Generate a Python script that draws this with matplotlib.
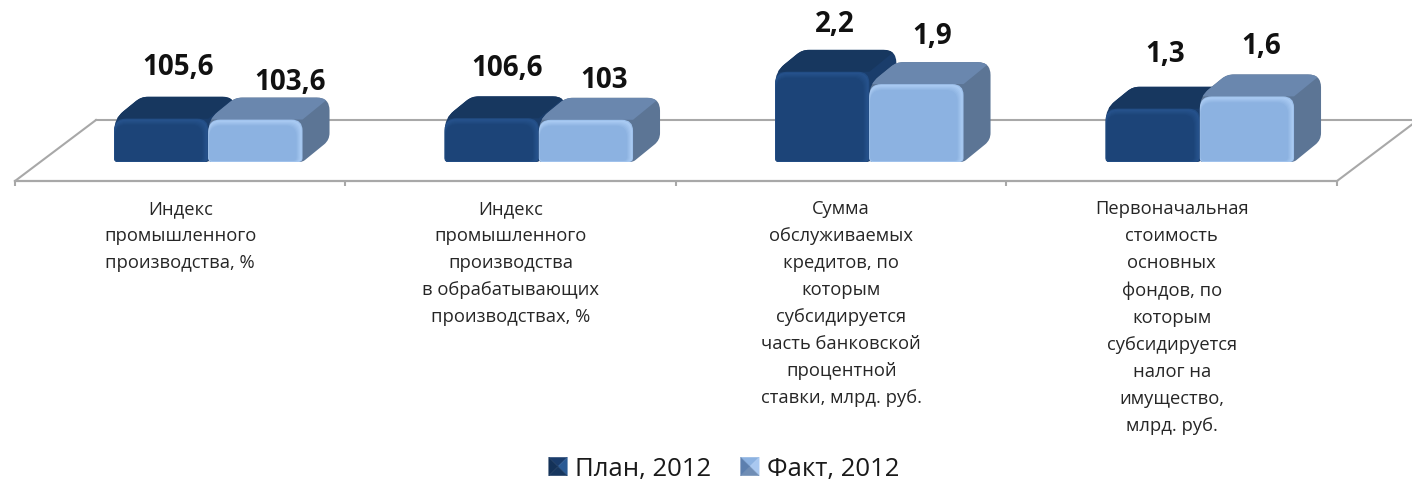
import matplotlib
matplotlib.use("Agg")
import matplotlib.pyplot as plt
from matplotlib.legend_handler import HandlerPatch
from matplotlib.patches import Patch, PathPatch, Polygon
from matplotlib.path import Path
from matplotlib.colors import to_rgb

# === data ===
categories = [
    "Индекс\nпромышленного\nпроизводства, %",
    "Индекс\nпромышленного\nпроизводства\nв обрабатывающих\nпроизводствах, %",
    "Сумма\nобслуживаемых\nкредитов, по\nкоторым\nсубсидируется\nчасть банковской\nпроцентной\nставки, млрд. руб.",
    "Первоначальная\nстоимость\nосновных\nфондов, по\nкоторым\nсубсидируется\nналог на\nимущество,\nмлрд. руб.",
]
plan_values = [1.056, 1.066, 2.2, 1.3]
fact_values = [1.036, 1.03, 1.9, 1.6]
plan_labels = ["105,6", "106,6", "2,2", "1,3"]
fact_labels = ["103,6", "103", "1,9", "1,6"]

# === layout (pixels per data unit, label nudges) ===
SX = 330.5
SY = 41.0
DEPTH_X = 27
DEPTH_Y = 22
BAR_W = 0.285
BAR_START = 0.3
plan_nudge = [(17, 52), (15, 51), (13, 48), (12, 55)]
fact_nudge = [(35, 38), (18, 40), (16, 49), (14, 51)]

PLAN = dict(front="#1c4478", rim="#285590", top="#17375f", side="#1a3d6b")
FACT = dict(front="#8cb2e1", rim="#b0d0f6", top="#6a87ae", side="#5c7595")
GREY = "#a8a8a8"

plt.rcParams["font.family"] = ["Open Sans", "DejaVu Sans"]


def rounded(points, radii):
    # closed polygon in data coords, corner radii given in pixels
    n = len(points)
    verts, codes = [], []
    for i in range(n):
        x, y = points[i]
        px, py = points[i - 1]
        nx, ny = points[(i + 1) % n]
        d1 = (((px - x) * SX) ** 2 + ((py - y) * SY) ** 2) ** 0.5
        d2 = (((nx - x) * SX) ** 2 + ((ny - y) * SY) ** 2) ** 0.5
        r = min(radii[i], d1 / 2, d2 / 2)
        a = (x + (px - x) * r / d1, y + (py - y) * r / d1)
        b = (x + (nx - x) * r / d2, y + (ny - y) * r / d2)
        verts += [a, (x, y), b]
        codes += [Path.MOVETO if i == 0 else Path.LINETO, Path.CURVE3, Path.CURVE3]
    verts.append(verts[0])
    codes.append(Path.CLOSEPOLY)
    return Path(verts, codes)


def blend(c1, c2, t):
    a, b = to_rgb(c1), to_rgb(c2)
    return tuple(a[k] + (b[k] - a[k]) * t for k in range(3))


def draw_bar(ax, x, h, col, z):
    w = BAR_W
    dx, dy = DEPTH_X / SX, DEPTH_Y / SY
    # whole outline in the side colour, top face clipped to it
    outline = [(x, 0), (x, h), (x + dx, h + dy), (x + w + dx, h + dy), (x + w + dx, dy), (x + w, 0)]
    body = PathPatch(rounded(outline, [3, 12, 7, 13, 7, 3]), fc=col["side"], ec="none", zorder=z)
    ax.add_patch(body)
    top = [(x, h), (x + dx, h + dy), (x + w + dx, h + dy), (x + w, h)]
    top_patch = PathPatch(rounded(top, [0, 0, 0, 0]), fc=col["top"], ec="none", zorder=z)
    ax.add_patch(top_patch)
    top_patch.set_clip_path(body)
    # front face, soft bevel built from inset layers
    steps = 7
    for k in range(steps):
        ins = k * 1.0
        il, ir, it, ib = ins * 0.15 / SX, ins / SX, ins / SY, ins * 0.2 / SY
        front = [(x + il, ib), (x + il, h - it), (x + w - ir, h - it), (x + w - ir, ib)]
        c = blend(col["rim"], col["front"], k / (steps - 1))
        if k == 0:
            c = blend(col["front"], col["rim"], 0.5)
        ax.add_patch(PathPatch(rounded(front, [4, 12, 11, 4]), fc=c, ec="none", zorder=z + 0.01 * k))


class BevelHandler(HandlerPatch):
    # legend swatch: square split into four shaded triangles
    def create_artists(self, legend, orig_handle, xdescent, ydescent, width, height, fontsize, trans):
        col = orig_handle.shades
        x0, y0 = -xdescent, -ydescent
        x1, y1 = x0 + width, y0 + height
        mid = (x0 + width / 2, y0 + height / 2)
        tris = [
            ([(x0, y1), (x1, y1), mid], col[0]),
            ([(x1, y1), (x1, y0), mid], col[1]),
            ([(x1, y0), (x0, y0), mid], col[2]),
            ([(x0, y0), (x0, y1), mid], col[3]),
        ]
        return [Polygon(p, closed=True, fc=c, ec=c, lw=0.3, transform=trans) for p, c in tris]


fig = plt.figure(figsize=(14.12, 4.81), dpi=100)
ax = fig.add_axes([0, 0, 1, 1])
ax.set_xlim(-15 / SX, (1412 - 15) / SX)
ax.set_ylim(-318 / SY, 163 / SY)
ax.patch.set_alpha(0)
for s in ["top", "left", "right"]:
    ax.spines[s].set_visible(False)

floor_y = -19 / SY
back_y = 42 / SY
floor_dx = 81 / SX
ax.spines["bottom"].set_position(("data", floor_y))
ax.spines["bottom"].set_bounds(0, len(categories))
ax.spines["bottom"].set_color(GREY)
ax.spines["bottom"].set_linewidth(1.6)
ax.set_yticks([])
ax.set_xticks(range(len(categories) + 1))
ax.set_xticklabels([])
ax.tick_params(axis="x", which="major", length=3.5, width=1.5, color=GREY, direction="out")
ax.set_xticks([i + 0.5 for i in range(len(categories))], categories, minor=True)
ax.tick_params(axis="x", which="minor", length=0, pad=13, labelsize=13.2, labelcolor="#262626")
for t in ax.get_xticklabels(minor=True):
    t.set_linespacing(1.64)

n = len(categories)
ax.plot([0, floor_dx], [floor_y, back_y], color=GREY, lw=1.5, zorder=1)
ax.plot([floor_dx, n + floor_dx], [back_y, back_y], color=GREY, lw=1.5, zorder=1)
ax.plot([n, n + floor_dx], [floor_y, back_y], color=GREY, lw=1.5, zorder=1)

for i in range(n):
    x0 = i + BAR_START
    draw_bar(ax, x0, plan_values[i], PLAN, 3)
    draw_bar(ax, x0 + BAR_W, fact_values[i], FACT, 4)
    ax.annotate(plan_labels[i], (x0 + BAR_W / 2, plan_values[i]), xytext=plan_nudge[i],
                textcoords="offset pixels", ha="center", va="center",
                fontsize=20, fontweight="bold", color="#111111", zorder=6)
    ax.annotate(fact_labels[i], (x0 + BAR_W * 1.5, fact_values[i]), xytext=fact_nudge[i],
                textcoords="offset pixels", ha="center", va="center",
                fontsize=20, fontweight="bold", color="#111111", zorder=6)

plan_handle = Patch(fc=PLAN["front"])
plan_handle.shades = ["#1a3c6b", "#2a5a94", "#17375f", "#143258"]
fact_handle = Patch(fc=FACT["front"])
fact_handle.shades = ["#8cb2e1", "#a9c8f0", "#6f8db5", "#5c7fae"]
ax.legend([plan_handle, fact_handle], ["План, 2012", "Факт, 2012"], ncol=2, frameon=False, fontsize=18.5,
          loc="center", bbox_to_anchor=(724 / 1412, 1 - 470 / 481),
          handlelength=0.72, handleheight=0.72, handletextpad=0.3, columnspacing=1.15,
          labelcolor="#1a1a1a", borderpad=0, borderaxespad=0,
          handler_map={Patch: BevelHandler()})

fig.savefig("out.png", dpi=100)
